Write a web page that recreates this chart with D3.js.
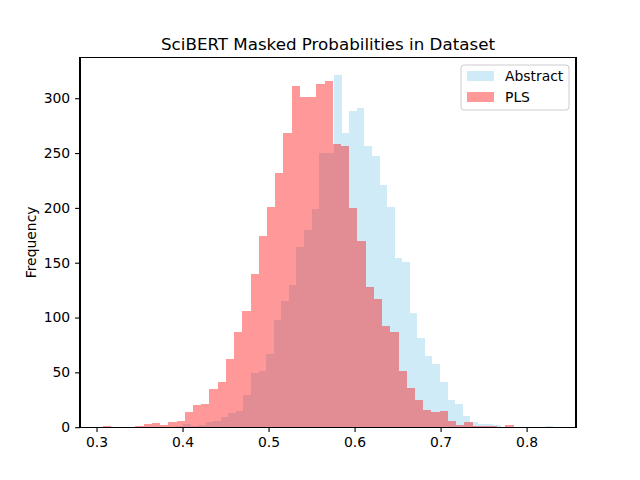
<!DOCTYPE html>
<html>
<head>
<meta charset="utf-8">
<script src="https://cdn.jsdelivr.net/npm/d3@7"></script>
<style>
  body { margin: 0; background: #fff; }
  text { font-family: "DejaVu Sans", sans-serif; }
</style>
</head>
<body>
<div class="chart"></div>
<script>
// histogram counts, 50 equal bins per series
var abstractRange = [0.3917, 0.8312];
var abstractCounts = [1, 3, 1, 2, 5, 6, 9, 13, 15, 29,
    49, 51, 67, 98, 115, 130, 164, 180, 199, 250,
    250, 321, 268, 288, 291, 256, 247, 221, 201, 154,
    151, 104, 81, 65, 58, 41, 25, 21, 10, 5,
    3, 3, 2, 0, 0, 0, 0, 0, 0, 1];

var plsRange = [0.307, 0.785];
var plsCounts = [1, 0, 0, 0, 1, 3, 4, 2, 5, 6,
    14, 20, 21, 35, 41, 62, 87, 106, 140, 174,
    201, 232, 268, 311, 301, 301, 313, 316, 258, 256,
    200, 170, 128, 117, 92, 87, 51, 36, 25, 16,
    14, 15, 6, 2, 5, 1, 1, 1, 0, 2];

var xTicks = [0.3, 0.4, 0.5, 0.6, 0.7, 0.8];
var yTicks = [0, 50, 100, 150, 200, 250, 300];

var seriesNames = ["Abstract", "PLS"];
var seriesColors = ["skyblue", "red"];

var W = 640, H = 480;
var margin = { top: 57.6, right: 64, bottom: 52.8, left: 80 };
var width = W - margin.left - margin.right,
    height = H - margin.top - margin.bottom;

function toBins(range, counts) {
    var step = (range[1] - range[0]) / counts.length;
    return counts.map(function (c, i) {
        return { x0: range[0] + i * step, x1: range[0] + (i + 1) * step, n: c };
    });
}

var series = [toBins(abstractRange, abstractCounts), toBins(plsRange, plsCounts)];

var svg = d3.select(".chart").append("svg")
    .attr("width", W)
    .attr("height", H);

var g = svg.append("g")
    .attr("transform", "translate(" + margin.left + "," + margin.top + ")");

var lo = Math.min(abstractRange[0], plsRange[0]),
    hi = Math.max(abstractRange[1], plsRange[1]),
    pad = (hi - lo) * 0.05;

var x = d3.scaleLinear()
    .domain([lo - pad, hi + pad])
    .range([0, width]);

var yMax = d3.max(abstractCounts.concat(plsCounts)) * 1.05;
var y = d3.scaleLinear()
    .domain([0, yMax])
    .range([height, 0]);

series.forEach(function (bins, s) {
    g.append("g").selectAll("rect")
        .data(bins)
        .enter().append("rect")
        .attr("x", function (d) { return x(d.x0); })
        .attr("width", function (d) { return x(d.x1) - x(d.x0); })
        .attr("y", function (d) { return y(d.n); })
        .attr("height", function (d) { return height - y(d.n); })
        .attr("fill", seriesColors[s])
        .attr("fill-opacity", 0.4)
        .attr("shape-rendering", "crispEdges");
});

// axes
var xAxis = d3.axisBottom(x).tickValues(xTicks).tickFormat(d3.format(".1f"))
    .tickSizeInner(4.9).tickSizeOuter(0).tickPadding(4.9);
var yAxis = d3.axisLeft(y).tickValues(yTicks)
    .tickSizeInner(4.9).tickSizeOuter(0).tickPadding(4.9);

var gx = g.append("g")
    .attr("transform", "translate(0," + height + ")")
    .call(xAxis);
var gy = g.append("g").call(yAxis);

[gx, gy].forEach(function (a) {
    a.select(".domain").remove();
    a.selectAll("line").attr("stroke", "#000").attr("stroke-width", 1.1);
    a.selectAll("text").attr("fill", "#000").style("font-size", "13.9px");
});

// spines
g.append("rect")
    .attr("width", width)
    .attr("height", height)
    .attr("fill", "none")
    .attr("stroke", "#000")
    .attr("stroke-width", 1.1)
    .attr("shape-rendering", "crispEdges");

svg.append("text")
    .attr("x", margin.left + width / 2)
    .attr("y", margin.top - 8)
    .attr("text-anchor", "middle")
    .style("font-size", "16.7px")
    .text("SciBERT Masked Probabilities in Dataset");

svg.append("text")
    .attr("transform", "translate(36," + (margin.top + height / 2) + ") rotate(-90)")
    .attr("text-anchor", "middle")
    .style("font-size", "13.9px")
    .text("Frequency");

// legend
var leg = svg.append("g").attr("transform", "translate(461,65)");
leg.append("rect")
    .attr("width", 108).attr("height", 45)
    .attr("rx", 3)
    .attr("fill", "#fff").attr("fill-opacity", 0.8)
    .attr("stroke", "#ccc");
seriesNames.forEach(function (name, i) {
    leg.append("rect")
        .attr("x", 6).attr("y", 6 + i * 21)
        .attr("width", 27).attr("height", 10)
        .attr("fill", seriesColors[i]).attr("fill-opacity", 0.4);
    leg.append("text")
        .attr("x", 44).attr("y", 16 + i * 21)
        .style("font-size", "13.9px")
        .text(name);
});
</script>
</body>
</html>
